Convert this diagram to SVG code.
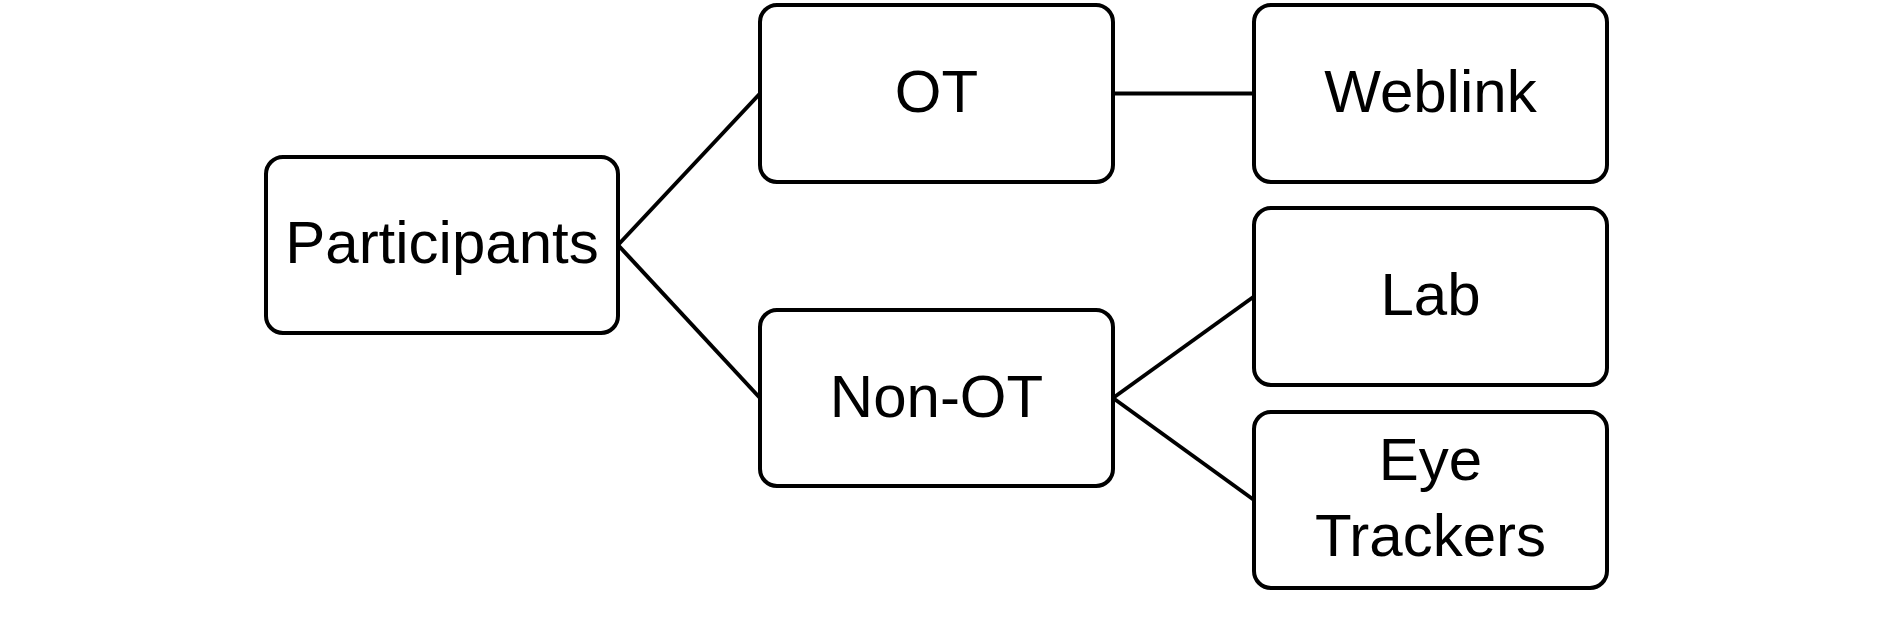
<svg xmlns="http://www.w3.org/2000/svg" width="1879" height="623" viewBox="0 0 1879 623">
<style>
.box{fill:#fff;stroke:#000;stroke-width:4}
.lbl{font-family:"Liberation Sans",Arial,sans-serif;font-size:60px;fill:#000;text-anchor:middle}
.conn line{stroke:#000;stroke-width:4}
</style>
<rect width="1879" height="623" fill="#fff"/>
<g class="conn" id="connectors">
<line x1="618" y1="245" x2="760" y2="93.5"/>
<line x1="618" y1="245" x2="760" y2="398"/>
<line x1="1113" y1="93.5" x2="1254" y2="93.5"/>
<line x1="1113" y1="398" x2="1254" y2="296.5"/>
<line x1="1113" y1="398" x2="1254" y2="500"/>
</g>
<g id="participants">
<rect class="box" x="266" y="157" width="352" height="176" rx="17"/>
<text class="lbl" x="442" y="263">Participants</text>
</g>
<g id="ot">
<rect class="box" x="760" y="5" width="353" height="177" rx="17"/>
<text class="lbl" x="936.5" y="112">OT</text>
</g>
<g id="non-ot">
<rect class="box" x="760" y="310" width="353" height="176" rx="17"/>
<text class="lbl" x="936.5" y="417">Non-OT</text>
</g>
<g id="weblink">
<rect class="box" x="1254" y="5" width="353" height="177" rx="17"/>
<text class="lbl" x="1430.5" y="112">Weblink</text>
</g>
<g id="lab">
<rect class="box" x="1254" y="208" width="353" height="177" rx="17"/>
<text class="lbl" x="1430.5" y="315">Lab</text>
</g>
<g id="eye-trackers">
<rect class="box" x="1254" y="412" width="353" height="176" rx="17"/>
<text class="lbl" x="1430.5" y="480">Eye</text>
<text class="lbl" x="1430.5" y="556">Trackers</text>
</g>
</svg>
